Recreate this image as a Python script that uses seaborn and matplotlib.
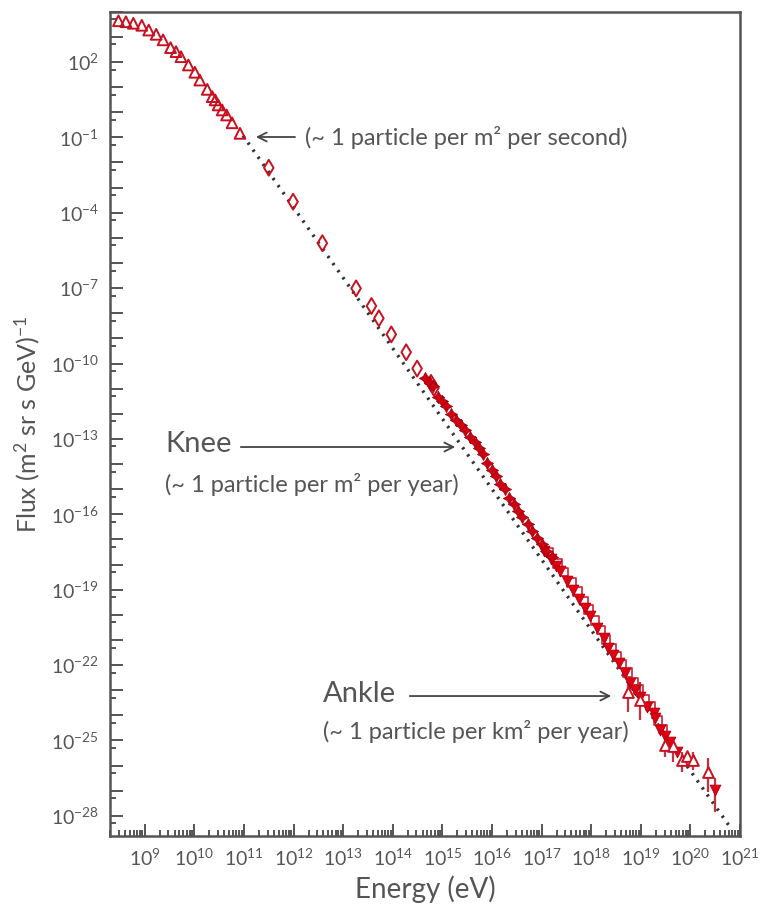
import matplotlib
matplotlib.use("Agg")
import matplotlib.pyplot as plt
import matplotlib.ticker as mticker
import numpy as np
import pandas as pd
import seaborn as sns

# all values are log10
# low energy direct measurements (open triangles)
tri_log_e = [8.47, 8.62, 8.77, 8.94, 9.08, 9.23, 9.37, 9.52, 9.63, 9.73, 9.88, 10.01,
             10.11, 10.26, 10.36, 10.42, 10.48, 10.56, 10.65, 10.76, 10.92]
tri_log_flux = [3.64, 3.60, 3.54, 3.46, 3.27, 3.10, 2.88, 2.57, 2.41, 2.21, 1.88, 1.59,
                1.28, 0.91, 0.62, 0.49, 0.29, 0.09, -0.11, -0.42, -0.84]

# open diamonds
dia_log_e = [11.50, 11.99, 12.58, 13.26, 13.57, 13.72, 13.97, 14.27, 14.49, 14.77, 14.83]
dia_log_flux = [-2.21, -3.56, -5.21, -7.01, -7.71, -8.20, -8.84, -9.55, -10.20, -10.77, -10.97]

# stars around the knee
star_log_e = [14.65, 14.75, 14.81, 14.91, 14.99, 15.08, 15.18, 15.28, 15.37, 15.45, 15.55,
              15.65, 15.74, 15.81, 15.90, 15.99, 16.09, 16.16, 16.27, 16.35, 16.45, 16.53,
              16.61, 16.72, 16.81, 16.90, 17.00, 17.08, 17.20]
star_log_flux = [-10.56, -10.76, -10.90, -11.32, -11.49, -11.69, -12.00, -12.25, -12.45,
                 -12.66, -12.91, -13.13, -13.35, -13.58, -13.95, -14.22, -14.48, -14.81,
                 -15.01, -15.34, -15.58, -15.85, -16.12, -16.38, -16.67, -16.94, -17.20,
                 -17.47, -17.69]

# filled down triangles
down_log_e = [17.05, 17.19, 17.29, 17.37, 17.52, 17.64, 17.76, 17.88, 17.98, 18.11, 18.25,
              18.33, 18.44, 18.55, 18.68, 18.79, 18.89, 18.99, 19.12, 19.26, 19.29, 19.39,
              19.49, 19.59, 19.73]
down_log_flux = [-17.47, -17.77, -18.07, -18.27, -18.67, -19.02, -19.37, -19.73, -20.06,
                 -20.52, -20.92, -21.32, -21.59, -21.92, -22.32, -22.71, -22.98, -23.25,
                 -23.65, -23.91, -24.11, -24.57, -24.84, -25.04, -25.44]

# open squares
sq_log_e = [17.15, 17.32, 17.45, 17.60, 17.72, 17.85, 17.95, 18.08, 18.20, 18.30, 18.42,
            18.52, 18.62, 18.73, 18.85, 18.95, 19.08, 19.20, 19.35, 19.45]
sq_log_flux = [-17.50, -17.95, -18.30, -18.72, -19.06, -19.45, -19.78, -20.22, -20.60,
               -20.98, -21.35, -21.66, -21.96, -22.30, -22.68, -22.96, -23.35, -23.62,
               -24.20, -24.55]

# open up triangles with error bars (ankle region)
up_log_e = [18.74, 18.98, 19.49, 19.65, 19.83, 19.93, 20.05, 20.36]
up_log_flux = [-23.07, -23.39, -25.16, -25.20, -25.77, -25.60, -25.77, -26.25]
up_log_hi = [-22.71, -22.67, -24.84, -24.92, -25.46, -25.46, -25.46, -25.70]
up_log_lo = [-23.87, -24.18, -25.64, -25.86, -26.25, -25.86, -26.17, -27.05]

# highest energy point (filled down triangle)
top_log_e = [20.50]
top_log_flux = [-26.97]
top_log_hi = [-26.49]
top_log_lo = [-27.84]

# dotted power law guide
fit_log_e = [10.98, 20.80]
fit_log_flux = [-0.93, -28.45]

x_tick_exps = [9, 10, 11, 12, 13, 14, 15, 16, 17, 18, 19, 20, 21]
y_label_exps = [2, -1, -4, -7, -10, -13, -16, -19, -22, -25, -28]

GREY = "#555555"
RED = "#c8101e"

sns.set_style("white")
plt.rcParams["font.family"] = ["Lato", "DejaVu Sans"]
plt.rcParams["mathtext.default"] = "regular"

def lin(v):
    return [10.0 ** a for a in v]

fig = plt.figure(figsize=(7.62, 9.08), dpi=100)
ax = fig.add_axes([0.1444, 0.0793, 0.8268, 0.9078])
ax.set_xscale("log")
ax.set_yscale("log")

fit = pd.DataFrame({"e": lin(fit_log_e), "flux": lin(fit_log_flux)})
sns.lineplot(data=fit, x="e", y="flux", ax=ax, color="#333333", lw=2.4,
             linestyle=(0, (0.7, 1.9)), zorder=1)

sns.scatterplot(x=lin(tri_log_e), y=lin(tri_log_flux), ax=ax, marker="^", s=60,
                facecolor="none", edgecolor=RED, linewidth=1.4, zorder=3)
sns.scatterplot(x=lin(dia_log_e), y=lin(dia_log_flux), ax=ax, marker="d", s=65,
                facecolor="none", edgecolor=RED, linewidth=1.4, zorder=3)

# error bars first so markers sit on top
ax.vlines(lin(up_log_e), lin(up_log_lo), lin(up_log_hi), color="#c83040", lw=1.6, zorder=2)
ax.vlines(lin(top_log_e), lin(top_log_lo), lin(top_log_hi), color="#c83040", lw=1.6, zorder=2)

sns.scatterplot(x=lin(sq_log_e), y=lin(sq_log_flux), ax=ax, marker="s", s=38,
                facecolor="none", edgecolor="#d02030", linewidth=1.2, zorder=3)
sns.scatterplot(x=lin(down_log_e), y=lin(down_log_flux), ax=ax, marker="v", s=60,
                color="#e00010", edgecolor="#b00010", linewidth=0.6, zorder=4)
sns.scatterplot(x=lin(star_log_e), y=lin(star_log_flux), ax=ax, marker=(4, 1, 0), s=75,
                color="#d00010", edgecolor="#a00010", linewidth=0.6, zorder=4)
sns.scatterplot(x=lin(up_log_e), y=lin(up_log_flux), ax=ax, marker="^", s=60,
                facecolor="white", edgecolor=RED, linewidth=1.4, zorder=5)
sns.scatterplot(x=lin(top_log_e), y=lin(top_log_flux), ax=ax, marker="v", s=60,
                color="#e00010", edgecolor="#b00010", linewidth=0.6, zorder=5)

ax.set_xlim(10 ** 8.3, 10 ** 21.0)
ax.set_ylim(10 ** -28.8, 10 ** 4.0)

ax.xaxis.set_major_locator(mticker.FixedLocator([10.0 ** k for k in x_tick_exps]))
ax.xaxis.set_minor_locator(mticker.LogLocator(base=10, subs=np.arange(2, 10), numticks=100))
ax.xaxis.set_major_formatter(mticker.FuncFormatter(lambda v, p: f"$10^{{{int(round(np.log10(v)))}}}$"))
ax.xaxis.set_minor_formatter(mticker.NullFormatter())

ax.yaxis.set_major_locator(mticker.LogLocator(base=10, subs=[1.0], numticks=100))
ax.yaxis.set_minor_locator(mticker.LogLocator(base=10, subs=[5.0], numticks=100))

def yfmt(v, pos):
    k = int(round(np.log10(v)))
    return f"$10^{{{k}}}$" if k in y_label_exps else ""

ax.yaxis.set_major_formatter(mticker.FuncFormatter(yfmt))
ax.yaxis.set_minor_formatter(mticker.NullFormatter())

ax.tick_params(which="both", direction="in", bottom=True, left=True, top=False, right=False,
               color=GREY, labelcolor=GREY, labelsize=14, width=1.4)
ax.tick_params(which="major", length=9, pad=8)
ax.tick_params(which="minor", length=4.5)
for sp in ax.spines.values():
    sp.set_color(GREY)
    sp.set_linewidth(1.8)

ax.set_xlabel("Energy (eV)", fontsize=20, color=GREY, labelpad=5)
ax.set_ylabel("Flux (m$^2$ sr s GeV)$^{-1}$", fontsize=18, color=GREY, labelpad=6)

arrow = dict(arrowstyle="->", color="#444444", lw=1.3, mutation_scale=16)
ax.annotate("", xy=(0.227, 0.848), xytext=(0.298, 0.848), xycoords="axes fraction",
            arrowprops=arrow)
ax.text(0.3095, 0.847, "(~ 1 particle per m² per second)", transform=ax.transAxes,
        fontsize=17, color=GREY, va="center", ha="left")

ax.text(0.0873, 0.4755, "Knee", transform=ax.transAxes, fontsize=21, color=GREY,
        va="center", ha="left")
ax.annotate("", xy=(0.5524, 0.4719), xytext=(0.2032, 0.4719), xycoords="axes fraction",
            arrowprops=arrow)
ax.text(0.0873, 0.427, "(~ 1 particle per m² per year)", transform=ax.transAxes,
        fontsize=17, color=GREY, va="center", ha="left")

ax.text(0.338, 0.1723, "Ankle", transform=ax.transAxes, fontsize=21, color=GREY,
        va="center", ha="left")
ax.annotate("", xy=(0.80, 0.1698), xytext=(0.4714, 0.1698), xycoords="axes fraction",
            arrowprops=arrow)
ax.text(0.338, 0.1262, "(~ 1 particle per km² per year)", transform=ax.transAxes,
        fontsize=17, color=GREY, va="center", ha="left")

fig.savefig("out.png", dpi=100)
